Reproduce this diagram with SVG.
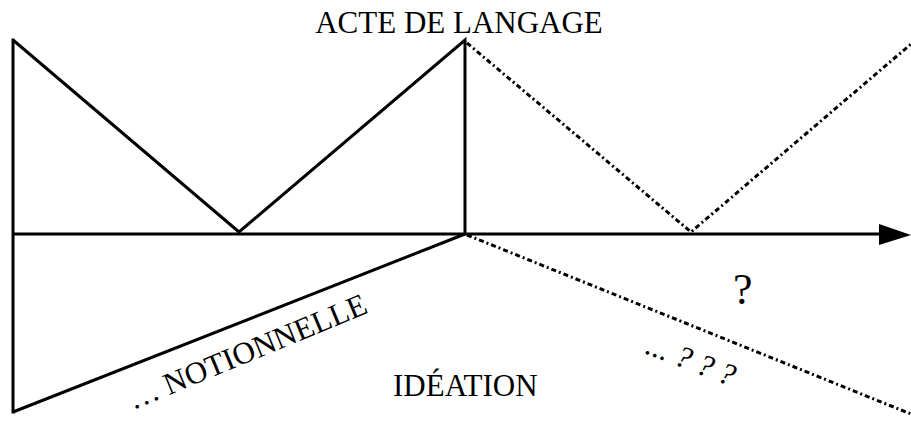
<svg xmlns="http://www.w3.org/2000/svg" width="911" height="426" viewBox="0 0 911 426">
<style>
.s{fill:none;stroke:#000;stroke-width:3;stroke-linejoin:miter}
.d{fill:none;stroke:#000;stroke-width:3;stroke-dasharray:5 3 2 3}
.t{font-family:"Liberation Serif","Times New Roman",serif;fill:#000}
</style>
<rect width="911" height="426" fill="#fff"/>
<g id="connectors">
<polyline class="s" points="13,40 239,232 465,40 465,234"/>
<line class="s" x1="13" y1="38.5" x2="13" y2="413.5"/>
<polyline class="s" points="465,234 13,412"/>
<line class="s" x1="13" y1="234" x2="882" y2="234"/>
<polygon points="879,224 911,235 879,245" fill="#000"/>
<polyline class="d" points="467,43 691,232 911,44"/>
<line class="d" x1="467" y1="235" x2="911" y2="414"/>
</g>
<g id="acte"><text class="t" x="459" y="33" font-size="31" text-anchor="middle">ACTE DE LANGAGE</text></g>
<g id="ideation"><text class="t" x="393" y="396" font-size="31">IDÉATION</text></g>
<g id="q"><text class="t" x="733" y="304" font-size="44">?</text></g>
<g id="notionnelle"><text class="t" x="133" y="410" font-size="31" transform="rotate(-22.5 133 410)">… NOTIONNELLE</text></g>
<g id="qqq"><text class="t" x="644" y="353" font-size="31" font-style="italic" transform="rotate(21 644 353)">... ? ? ?</text></g>
</svg>
